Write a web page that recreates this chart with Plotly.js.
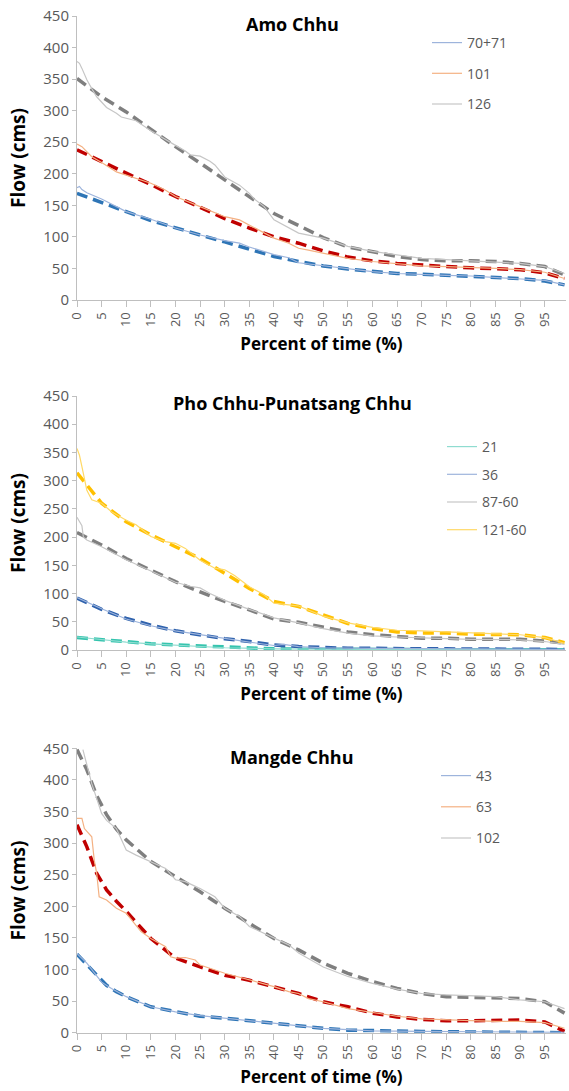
<!DOCTYPE html>
<html>
<head>
<meta charset="utf-8">
<script src="https://cdn.plot.ly/plotly-3.0.1.min.js"></script>
<style>html,body{margin:0;padding:0;background:#fff;}#chart{width:569px;height:1091px;}</style>
</head>
<body>
<div id="chart"></div>
<script>
// ---------- Data ----------
var panelTitles = ["Amo Chhu", "Pho Chhu-Punatsang Chhu", "Mangde Chhu"];
var xTickVals = [0,5,10,15,20,25,30,35,40,45,50,55,60,65,70,75,80,85,90,95];

// Amo Chhu
var amoFitX = [0,5,10,15,20,25,30,35,40,45,50,55,60,65,70,75,80,85,90,95,99];
var amo7071Fit = [169,154,140,126,114,103,92,80,69,61,54,49,45,42,41,39,38,36,34,30,24];
var amo101Fit  = [238,219,201,183,164,147,129,114,100,90,78,68,62,58,55,53,51,50,48,43,34];
var amo126Fit  = [351,322,298,270,243,217,190,163,137,118,99,84,77,69,64,62,62,61,58,53,40];

var amo7071ObsX = [0,0.5,1,2,5,8,10,15,20,25,30,33,35,40,43,45,50,55,60,65,70,75,80,85,90,95,99];
var amo7071Obs  = [178,180,175,170,160,148,140,128,114,103,94,90,84,72,67,59,54,49,45,42,40,39,38,36,34,31,24];
var amo101ObsX = [0,1,3,5,8,10,13,15,18,20,25,30,33,35,38,40,43,45,47,50,55,60,65,70,75,80,85,90,95,99];
var amo101Obs  = [247,243,227,218,203,198,190,185,174,164,148,132,127,119,106,98,90,82,79,74,66,61,57,54,53,52,50,48,44,34];
var amo126ObsX = [0,0.5,1,2,3,4,6,8,9,10,11,12,15,18,20,22,23,25,27,28,30,33,35,36,38,40,43,45,50,55,60,65,70,75,80,85,90,95,99];
var amo126Obs  = [378,375,367,349,335,322,305,296,290,288,287,284,268,255,245,236,230,228,220,214,195,182,169,160,148,127,114,106,98,85,77,71,66,64,62,61,58,53,42];

// Pho Chhu-Punatsang Chhu
var phoFitX = [0,5,10,15,20,25,30,35,40,45,50,55,60,65,70,75,80,85,90,95,99];
var pho21Fit  = [22,18,14,11,9,7,5,3.5,2,1.5,1,1,1,1,0.5,0.5,0.5,0.5,0.5,0.5,0.5];
var pho36Fit  = [92,72,56,44,34,27,20,15,9,6,4,3,3,2,2,2,2,2,1.5,1.5,1];
var pho87Fit  = [208,186,162,142,121,103,86,71,55,49,41,32,27,24,21,21,19,19,19,16,12];
var pho121Fit = [314,260,227,204,183,162,136,109,86,77,62,47,38,32,30,30,28,28,27,22,13];

var pho21ObsX = [0,5,10,15,20,25,30,40,50,60,70,80,90,99];
var pho21Obs  = [23,18,14,11,9,7,4,2,1,1,0.5,0.5,0.5,0.5];
var pho36ObsX = [0,5,10,15,20,25,30,35,40,42,45,50,60,70,80,90,99];
var pho36Obs  = [93,73,55,43,34,27,20,14,8,10,6,4,3,2,2,1.5,1];
var pho87ObsX = [0,0.5,1,1.3,2,5,10,15,20,23,25,27,30,35,40,45,50,55,60,65,70,75,80,85,90,95,99];
var pho87Obs  = [235,228,220,200,195,183,160,140,120,113,110,100,88,72,57,48,38,30,25,23,21,20,19,19,18,15,10];
var pho121ObsX = [0,0.5,1,2,3,5,7,10,12,15,18,20,22,25,28,30,32,35,38,40,43,45,50,55,60,65,70,75,80,85,90,95,99];
var pho121Obs  = [357,345,325,283,266,260,245,230,222,201,192,189,180,159,145,142,132,112,98,83,80,78,60,48,40,35,34,32,30,28,27,22,12];

// Mangde Chhu
var manFitX = [0,2,4,6,8,10,15,20,25,30,35,40,45,50,55,60,65,70,75,80,85,90,95,99];
var man43Fit  = [124,107,90,75,65,57,41,33,26,23,19,14,11,7,4,3,2,2,1.5,1,1,1,0.5,0];
var man63Fit  = [329,294,252,226,208,192,149,118,104,91,83,73,62,49,41,31,25,21,19,19,20,20,17,2];
var man102Fit = [448,416,375,345,322,305,271,247,223,197,173,149,131,110,94,81,70,62,57,56,56,54,49,31];

var man43ObsX = [0,2,4,5,7,10,15,20,25,30,35,40,45,50,55,60,70,80,90,99];
var man43Obs  = [125,110,90,80,70,57,41,33,27,23,19,14,11,7,5,3,2,1,1,0.5];
var man63ObsX = [0,1,1.5,2.5,3,3.5,4,4.5,6,8,10,13,15,18,19,20,22,24,25,30,35,40,43,45,47,50,55,60,65,70,75,80,85,90,95,99];
var man63Obs  = [339,339,323,315,310,273,252,215,210,197,189,160,149,136,120,118,119,115,107,94,83,73,65,62,54,49,38,32,26,22,20,19,18,18,16,7];
var man102ObsX = [1.2,3,5,6,8,10,12,15,18,20,22,25,27,28,30,33,35,38,40,43,45,50,55,60,65,70,75,80,85,90,95,99];
var man102Obs  = [448,394,347,336,323,289,281,271,260,242,239,228,220,215,197,184,168,157,149,139,126,104,89,78,69,62,60,58,57,52,49,38];

// ---------- Styles ----------
var C = {
  blueFit:'#2e75b6', blueObs:'#9db4dc',
  redFit:'#c00000', orangeObs:'#f4b183',
  grayFit:'#7f7f7f', grayObs:'#c6c6c6',
  tealFit:'#35c4ae', tealObs:'#8fdcd0',
  blue2Fit:'#2f62ad',
  yellowFit:'#ffc000', yellowObs:'#ffd966'
};
var DASH = '11px,6px';
var traces = [];
function fit(x, y, color, ax){
  traces.push({x:x, y:y, xaxis:'x'+ax, yaxis:'y'+ax, type:'scatter', mode:'lines',
    line:{color:color, width:3.5, dash:DASH}, showlegend:false, hoverinfo:'skip'});
}
function obs(x, y, color, name, ax){
  traces.push({x:x, y:y, xaxis:'x'+ax, yaxis:'y'+ax, type:'scatter', mode:'lines', name:name,
    legendgroup:'g'+ax+name, legend: ax===''?'legend':'legend'+ax,
    line:{color:color, width:1.2}, showlegend:true});
}
// Panel 1
fit(amoFitX, amo7071Fit, C.blueFit, '');
fit(amoFitX, amo101Fit, C.redFit, '');
fit(amoFitX, amo126Fit, C.grayFit, '');
obs(amo7071ObsX, amo7071Obs, C.blueObs, '70+71', '');
obs(amo101ObsX, amo101Obs, C.orangeObs, '101', '');
obs(amo126ObsX, amo126Obs, C.grayObs, '126', '');
// Panel 2
fit(phoFitX, pho21Fit, C.tealFit, '2');
fit(phoFitX, pho36Fit, C.blue2Fit, '2');
fit(phoFitX, pho87Fit, C.grayFit, '2');
fit(phoFitX, pho121Fit, C.yellowFit, '2');
obs(pho21ObsX, pho21Obs, C.tealObs, '21', '2');
obs(pho36ObsX, pho36Obs, C.blueObs, '36', '2');
obs(pho87ObsX, pho87Obs, C.grayObs, '87-60', '2');
obs(pho121ObsX, pho121Obs, C.yellowObs, '121-60', '2');
// Panel 3
fit(manFitX, man43Fit, C.blueFit, '3');
fit(manFitX, man63Fit, C.redFit, '3');
fit(manFitX, man102Fit, C.grayFit, '3');
obs(man43ObsX, man43Obs, C.blueObs, '43', '3');
obs(man63ObsX, man63Obs, C.orangeObs, '63', '3');
obs(man102ObsX, man102Obs, C.grayObs, '102', '3');

// ---------- Layout ----------
var W = 569, H = 1091;
function py(p){ return 1 - p/H; }
var FONT = 'Open Sans, Liberation Sans, sans-serif';
var tickColor = '#595959';
function xAx(anchor){
  return {domain:[77/W, 566/W], range:[0, 99.3], anchor:anchor, tickmode:'array', tickvals:xTickVals,
    ticktext:xTickVals.map(String), tickangle:-90, tickfont:{family:FONT, size:13, color:tickColor},
    showline:true, linecolor:'#bfbfbf', linewidth:1, ticks:'outside', ticklen:6, tickcolor:'#bfbfbf',
    showgrid:false, zeroline:false, fixedrange:true,
    title:{text:'Percent of time (%)', font:{family:FONT, size:17, color:'#000', weight:'bold'}, standoff:12}};
}
function yAx(anchor, top, bottom){
  return {domain:[py(bottom), py(top)], range:[0,450], dtick:50, anchor:anchor,
    tickfont:{family:FONT, size:15, color:tickColor},
    showline:true, linecolor:'#bfbfbf', linewidth:1, ticks:'outside', ticklen:4, tickcolor:'#bfbfbf',
    showgrid:false, zeroline:false, fixedrange:true,
    title:{text:'Flow (cms)', font:{family:FONT, size:19, color:'#000', weight:'bold'}, standoff:12}};
}
function leg(xpx, ypx, gap){
  return {x:xpx/W, y:py(ypx), xanchor:'left', yanchor:'top', bgcolor:'rgba(0,0,0,0)',
    font:{family:FONT, size:14, color:tickColor}, tracegroupgap:gap, itemwidth:30};
}
function ttl(text, ypx){
  return {text:'<b>'+text+'</b>', x:292/W, y:py(ypx), xref:'paper', yref:'paper', showarrow:false,
    xanchor:'center', yanchor:'middle', font:{family:FONT, size:18, color:'#000'}};
}
var layout = {
  width:W, height:H, margin:{l:0, r:0, t:0, b:0}, paper_bgcolor:'#fff', plot_bgcolor:'#fff',
  xaxis:xAx('y'), yaxis:yAx('x', 16, 300),
  xaxis2:xAx('y2'), yaxis2:yAx('x2', 396, 650),
  xaxis3:xAx('y3'), yaxis3:yAx('x3', 748.3, 1032.7),
  legend:leg(427, 27, 9.5), legend2:leg(442, 431, 6.5), legend3:leg(436, 760, 10),
  annotations:[ttl(panelTitles[0], 24), ttl(panelTitles[1], 403), ttl(panelTitles[2], 757)],
  showlegend:true
};
Plotly.newPlot('chart', traces, layout, {displayModeBar:false, staticPlot:true});
</script>
</body>
</html>
